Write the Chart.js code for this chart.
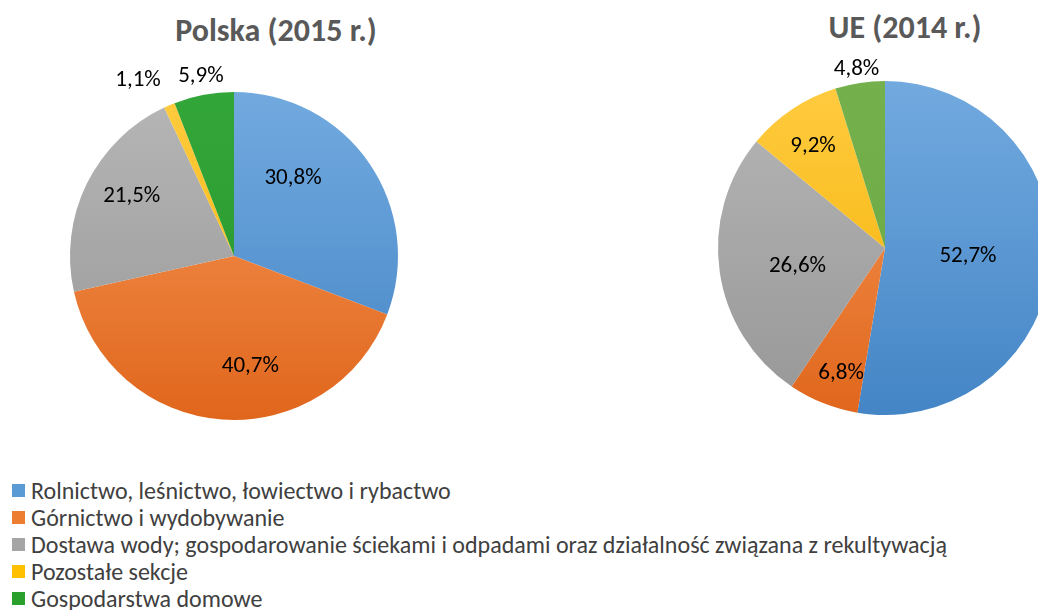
<!DOCTYPE html>
<html><head><meta charset="utf-8">
<script src="https://cdn.jsdelivr.net/npm/chart.js@4"></script>
<style>
html,body{margin:0;padding:0;background:#fff;}
body{width:1038px;height:610px;position:relative;overflow:hidden;font-family:Carlito, Lato, sans-serif;}
#w1{position:absolute;left:0;top:0;width:468px;height:440px;}
#w2{position:absolute;left:600px;top:0;width:570px;height:440px;}
.title{position:absolute;font-weight:bold;color:#595959;font-size:32px;white-space:nowrap;transform:translate(-50%,-50%);}
#legend{position:absolute;left:12px;top:477px;}
.li{height:27px;display:flex;align-items:center;font-size:24px;color:#404040;white-space:nowrap;}
.sw{width:13px;height:13px;margin-right:6px;flex:none;}
</style></head>
<body>
<div class="title" id="t1" style="left:276px;top:30px"></div>
<div class="title" id="t2" style="left:905px;top:27px"></div>
<div id="w1"><canvas id="c1"></canvas></div>
<div id="w2"><canvas id="c2"></canvas></div>
<div id="legend"></div>
<script>
const categories = [
  "Rolnictwo, leśnictwo, łowiectwo i rybactwo",
  "Górnictwo i wydobywanie",
  "Dostawa wody; gospodarowanie ściekami i odpadami oraz działalność związana z rekultywacją",
  "Pozostałe sekcje",
  "Gospodarstwa domowe"
];
const polskaTitle = "Polska (2015 r.)";
const ueTitle = "UE (2014 r.)";
const polskaValues = [30.8, 40.7, 21.5, 1.1, 5.9];
const ueValues = [52.7, 6.8, 26.6, 9.2, 4.8];

const legendColors = ["#5B9BD5", "#ED7D31", "#A5A5A5", "#FFC000", "#2CA02C"];
const gradPolska = [["#72AADF","#4485C6"],["#F79A5A","#E0661C"],["#B6B6B6","#979797"],["#FFCB40","#F2B000"],["#33A639","#28952C"]];
const gradUE = [["#72AADF","#4485C6"],["#F79A5A","#E0661C"],["#B6B6B6","#979797"],["#FFCB40","#F2B000"],["#74B04C","#6BA843"]];

document.getElementById('t1').textContent = polskaTitle;
document.getElementById('t2').textContent = ueTitle;
const lg = document.getElementById('legend');
categories.forEach((c,i)=>{
  const d=document.createElement('div'); d.className='li';
  const s=document.createElement('span'); s.className='sw'; s.style.background=legendColors[i];
  d.appendChild(s); d.appendChild(document.createTextNode(c)); lg.appendChild(d);
});

function fmt(v){ return v.toFixed(1).replace('.', ',') + '%'; }

const pieLabels = {
  id: 'pieLabels',
  afterDatasetsDraw(chart, args, opts) {
    const ctx = chart.ctx;
    const meta = chart.getDatasetMeta(0);
    const data = chart.data.datasets[0].data;
    ctx.save();
    ctx.font = opts.font;
    ctx.fillStyle = '#000';
    ctx.textAlign = 'center';
    ctx.textBaseline = 'middle';
    meta.data.forEach((arc, i) => {
      const p = arc.getProps(['x','y','startAngle','endAngle','outerRadius']);
      const mid = (p.startAngle + p.endAngle)/2 + (opts.shift[i]||0) * Math.PI/180;
      const r = p.outerRadius * opts.radius[i];
      ctx.fillText(fmt(data[i]), p.x + Math.cos(mid)*r, p.y + Math.sin(mid)*r);
    });
    ctx.restore();
  }
};

function gradFill(grads){
  return (c) => {
    const chart = c.chart; const area = chart.chartArea;
    const g0 = grads[c.dataIndex];
    if (!area) return g0[0];
    const g = chart.ctx.createLinearGradient(0, area.top, 0, area.bottom);
    g.addColorStop(0, g0[0]); g.addColorStop(1, g0[1]);
    return g;
  };
}

function makePie(id, values, grads, padding, radius, labelOpts){
  return new Chart(document.getElementById(id), {
    type: 'pie',
    data: { labels: categories, datasets: [{ data: values, backgroundColor: gradFill(grads), borderWidth: 0, hoverOffset: 0 }] },
    plugins: [pieLabels],
    options: {
      responsive: true, maintainAspectRatio: false, animation: false,
      radius: radius,
      layout: { padding: padding },
      events: [],
      plugins: { legend: { display: false }, tooltip: { enabled: false }, title: { display: false },
        pieLabels: Object.assign({ font: '23px Carlito, Lato, sans-serif' }, labelOpts) }
    }
  });
}

makePie('c1', polskaValues, gradPolska, {top:92, bottom:20, left:0, right:0}, 164,
  { radius:[0.596,0.678,0.723,1.222,1.116], shift:[-18.3,-12.6,4.3,-5.4,0.2] });
makePie('c2', ueValues, gradUE, {top:81, bottom:25, left:0, right:0}, 167,
  { radius:[0.499,0.793,0.536,0.744,1.085], shift:[0.7,-2.4,-3.9,-1.6,-0.4] });
</script>
</body></html>
